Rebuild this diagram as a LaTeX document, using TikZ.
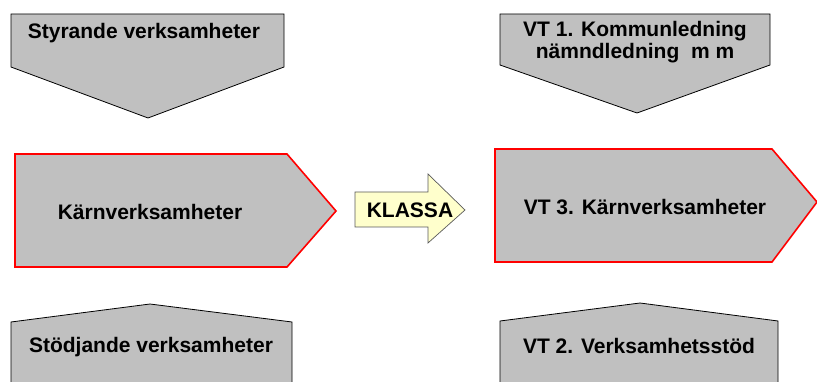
\documentclass[tikz,border=0pt]{standalone}
\usepackage{fontspec}
\setmainfont{Liberation Sans}
\begin{document}
\begin{tikzpicture}[x=1pt,y=-1pt,
  graybox/.style={fill={rgb,255:red,192;green,192;blue,192},draw=black,line width=0.8pt,line join=miter},
  corebox/.style={fill={rgb,255:red,192;green,192;blue,192},draw={rgb,255:red,255;green,0;blue,0},line width=1.6pt,line join=miter},
  klassabox/.style={fill={rgb,255:red,255;green,255;blue,204},draw={rgb,255:red,90;green,90;blue,90},line width=0.7pt,line join=miter},
  lbl/.style={font=\fontsize{21}{24}\selectfont\bfseries,align=center,inner sep=0pt}]
\useasboundingbox (0,0) rectangle (817,382);
\clip (0,0) rectangle (817,382);

% steering activities (downward chevrons)
\path[graybox] (11,14) -- (284,14) -- (284,67) -- (148,118) -- (11,67) -- cycle;
\path[graybox] (500,14) -- (770,14) -- (770,65) -- (637,113) -- (500,65) -- cycle;

% core activities (pentagons pointing right)
\path[corebox] (15,154) -- (287,154) -- (336,211) -- (287,267) -- (15,267) -- cycle;
\path[corebox] (495,149) -- (772,149) -- (817,202) -- (772,262) -- (495,262) -- cycle;

% support activities (upward pentagons)
\path[graybox] (11,322) -- (150,304) -- (292,322) -- (292,395) -- (11,395) -- cycle;
\path[graybox] (500,321) -- (640,303) -- (778,321) -- (778,395) -- (500,395) -- cycle;

% classification arrow
\path[klassabox] (355,192) -- (428,192) -- (428,174) -- (465,210) -- (428,243) -- (428,227) -- (355,227) -- cycle;

\node[lbl] (styr) at (144,33) {Styrande verksamheter};
\node[lbl] (vt1) at (635,42) {VT 1. Kommunledning\\[-2pt]nämndledning\ \ m m};
\node[lbl] (karn) at (150,212) {Kärnverksamheter};
\node[lbl] (vt3) at (645,207) {VT 3. Kärnverksamheter};
\node[lbl] (stod) at (151,347) {Stödjande verksamheter};
\node[lbl] (vt2) at (639,346) {VT 2. Verksamhetsstöd};
\node[lbl] (klassa) at (410,210) {KLASSA};
\end{tikzpicture}
\end{document}
